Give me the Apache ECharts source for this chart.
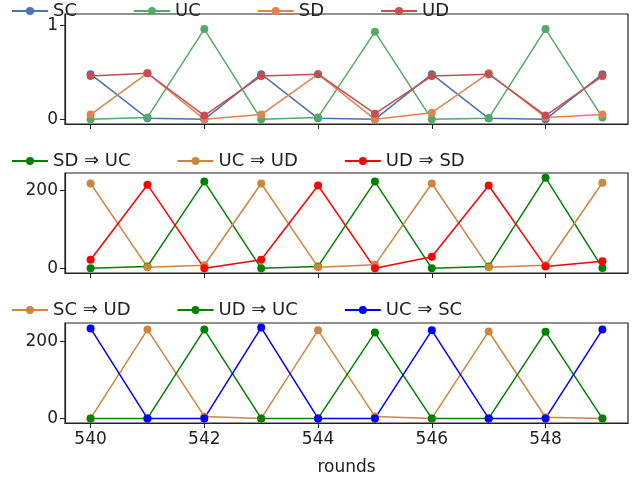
<!DOCTYPE html>
<html>
<head>
<meta charset="utf-8">
<script src="https://cdn.jsdelivr.net/npm/echarts@6/dist/echarts.min.js"></script>
<style>html,body{margin:0;padding:0;background:#fff}#main{width:640px;height:480px}</style>
</head>
<body>
<div id="main"></div>
<script>
const rounds = [540, 541, 542, 543, 544, 545, 546, 547, 548, 549];
const xTicks = [540, 542, 544, 546, 548];

// panel 1: fractions
const sc = [0.48, 0.01, 0.0, 0.48, 0.01, 0.0, 0.48, 0.01, 0.0, 0.48];
const uc = [0.0, 0.02, 0.96, 0.0, 0.02, 0.93, 0.0, 0.01, 0.96, 0.02];
const sd = [0.05, 0.49, 0.0, 0.05, 0.48, 0.0, 0.07, 0.49, 0.02, 0.05];
const ud = [0.46, 0.49, 0.04, 0.46, 0.48, 0.06, 0.46, 0.48, 0.04, 0.46];

// panel 2: transitions
const sdToUc = [0, 5, 223, 0, 5, 223, 0, 5, 233, 1];
const ucToUd = [218, 3, 8, 218, 3, 9, 218, 3, 8, 220];
const udToSd = [22, 215, 0, 22, 213, 0, 30, 213, 5, 18];

// panel 3: transitions
const scToUd = [0, 231, 5, 0, 229, 5, 0, 226, 3, 0];
const udToUc = [0, 0, 231, 0, 0, 223, 0, 0, 225, 0];
const ucToSc = [234, 0, 0, 236, 0, 0, 229, 0, 0, 231];

const font = "DejaVu Sans";
const pair = (ys) => rounds.map((r, i) => [r, ys[i]]);

function mkSeries(name, ys, color, idx) {
  return {
    name: name, type: "line", data: pair(ys), xAxisIndex: idx, yAxisIndex: idx,
    symbol: "circle", symbolSize: 8, color: color,
    lineStyle: { width: 1.5, color: color }, itemStyle: { color: color }
  };
}

const grids = [
  { left: 65, right: 12, top: 14, height: 110 },
  { left: 65, right: 12, top: 173, height: 100 },
  { left: 65, right: 12, top: 323, height: 100 }
].map(g => Object.assign(g, { show: true, borderColor: "#222", borderWidth: 1.2, backgroundColor: "transparent" }));

const yRanges = [[-0.05, 1.12, [0, 1]], [-12, 245, [0, 200]], [-12, 248, [0, 200]]];

const xAxes = [0, 1, 2].map(i => ({
  type: "value", gridIndex: i, min: 539.55, max: 549.45,
  splitLine: { show: false },
  axisLine: { show: true, onZero: false, lineStyle: { color: "#222", width: 1.2 } },
  axisTick: { show: true, customValues: xTicks, length: 5, lineStyle: { color: "#222" } },
  axisLabel: { show: i === 2, customValues: xTicks, fontFamily: font, fontSize: 17, color: "#222", margin: 8 },
  name: i === 2 ? "rounds" : "", nameLocation: "middle", nameGap: 36,
  nameTextStyle: { fontFamily: font, fontSize: 17, color: "#222" }
}));

const yAxes = yRanges.map((r, i) => ({
  type: "value", gridIndex: i, min: r[0], max: r[1],
  splitLine: { show: false },
  axisLine: { show: true, lineStyle: { color: "#222", width: 1.2 } },
  axisTick: { show: true, customValues: r[2], length: 5, lineStyle: { color: "#222" } },
  axisLabel: { customValues: r[2], fontFamily: font, fontSize: 17, color: "#222", margin: 7 }
}));

const legendBase = { itemWidth: 36, itemHeight: 10, itemGap: 46,
  textStyle: { fontFamily: font, fontSize: 18, color: "#222" } };

const option = {
  animation: false,
  grid: grids,
  xAxis: xAxes,
  yAxis: yAxes,
  legend: [
    Object.assign({ top: -3, left: 6, data: ["SC", "UC", "SD", "UD"] }, legendBase, { itemGap: 56 }),
    Object.assign({ top: 147, left: 6, data: ["SD ⇒ UC", "UC ⇒ UD", "UD ⇒ SD"] }, legendBase),
    Object.assign({ top: 296, left: 6, data: ["SC ⇒ UD", "UD ⇒ UC", "UC ⇒ SC"] }, legendBase)
  ],
  series: [
    mkSeries("SC", sc, "#4c72b0", 0),
    mkSeries("UC", uc, "#55a868", 0),
    mkSeries("SD", sd, "#dd8452", 0),
    mkSeries("UD", ud, "#c44e52", 0),
    mkSeries("SD ⇒ UC", sdToUc, "green", 1),
    mkSeries("UC ⇒ UD", ucToUd, "peru", 1),
    mkSeries("UD ⇒ SD", udToSd, "red", 1),
    mkSeries("SC ⇒ UD", scToUd, "peru", 2),
    mkSeries("UD ⇒ UC", udToUc, "green", 2),
    mkSeries("UC ⇒ SC", ucToSc, "blue", 2)
  ]
};

const chart = echarts.init(document.getElementById("main"));
chart.setOption(option);
</script>
</body>
</html>
